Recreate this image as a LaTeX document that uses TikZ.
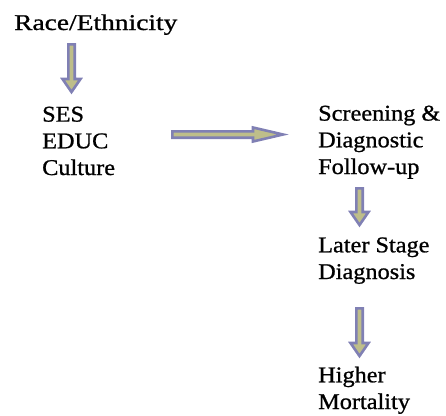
\documentclass[tikz,border=0pt]{standalone}
\usepackage{fontspec}
\usepackage{graphicx}
\setmainfont{Liberation Serif}[FakeStretch=1.08]
\newfontfamily\lblfont{Liberation Serif}[FakeStretch=1.08,RawFeature={embolden=0.9}]
\definecolor{arrfill}{RGB}{190,190,138}
\definecolor{arrline}{RGB}{128,128,180}
\begin{document}
\begin{tikzpicture}[x=1pt,y=-1pt,
  lbl/.style={inner sep=0pt,anchor=base west,align=left,font=\lblfont\fontsize{22.5}{26.7}\selectfont},
  blockarrow/.style={fill=arrfill,draw=arrline,line width=2.6pt,line join=miter}]
\useasboundingbox (0,0) rectangle (446,415);
% anchor base west = baseline of the last line
\node[lbl] (race) at (14,30) {\scalebox{1.13}[1]{Race/Ethnicity}};
\node[lbl] (ses) at (42,175) {SES\\EDUC\\Culture};
\node[lbl] (screen) at (318,174) {Screening \&\\Diagnostic\\Follow-up};
\node[lbl] (later) at (318,279) {Later Stage\\Diagnosis};
\node[lbl] (higher) at (318,409) {Higher\\Mortality};
% vertical arrow 1
\draw[blockarrow] (68.3,44.3) -- (74.7,44.3) -- (74.7,79) -- (80.5,79) -- (71.5,92) -- (62.5,79) -- (68.3,79) -- cycle;
% horizontal arrow
\draw[blockarrow] (172.3,131.3) -- (253,131.3) -- (253,127.5) -- (283,134.5) -- (253,141.5) -- (253,137.7) -- (172.3,137.7) -- cycle;
% vertical arrow 2
\draw[blockarrow] (356.3,188.3) -- (362.7,188.3) -- (362.7,212) -- (368.5,212) -- (359.5,225) -- (350.5,212) -- (356.3,212) -- cycle;
% vertical arrow 3
\draw[blockarrow] (356.3,308.3) -- (362.7,308.3) -- (362.7,343) -- (368.5,343) -- (359.5,356) -- (350.5,343) -- (356.3,343) -- cycle;
\end{tikzpicture}
\end{document}
